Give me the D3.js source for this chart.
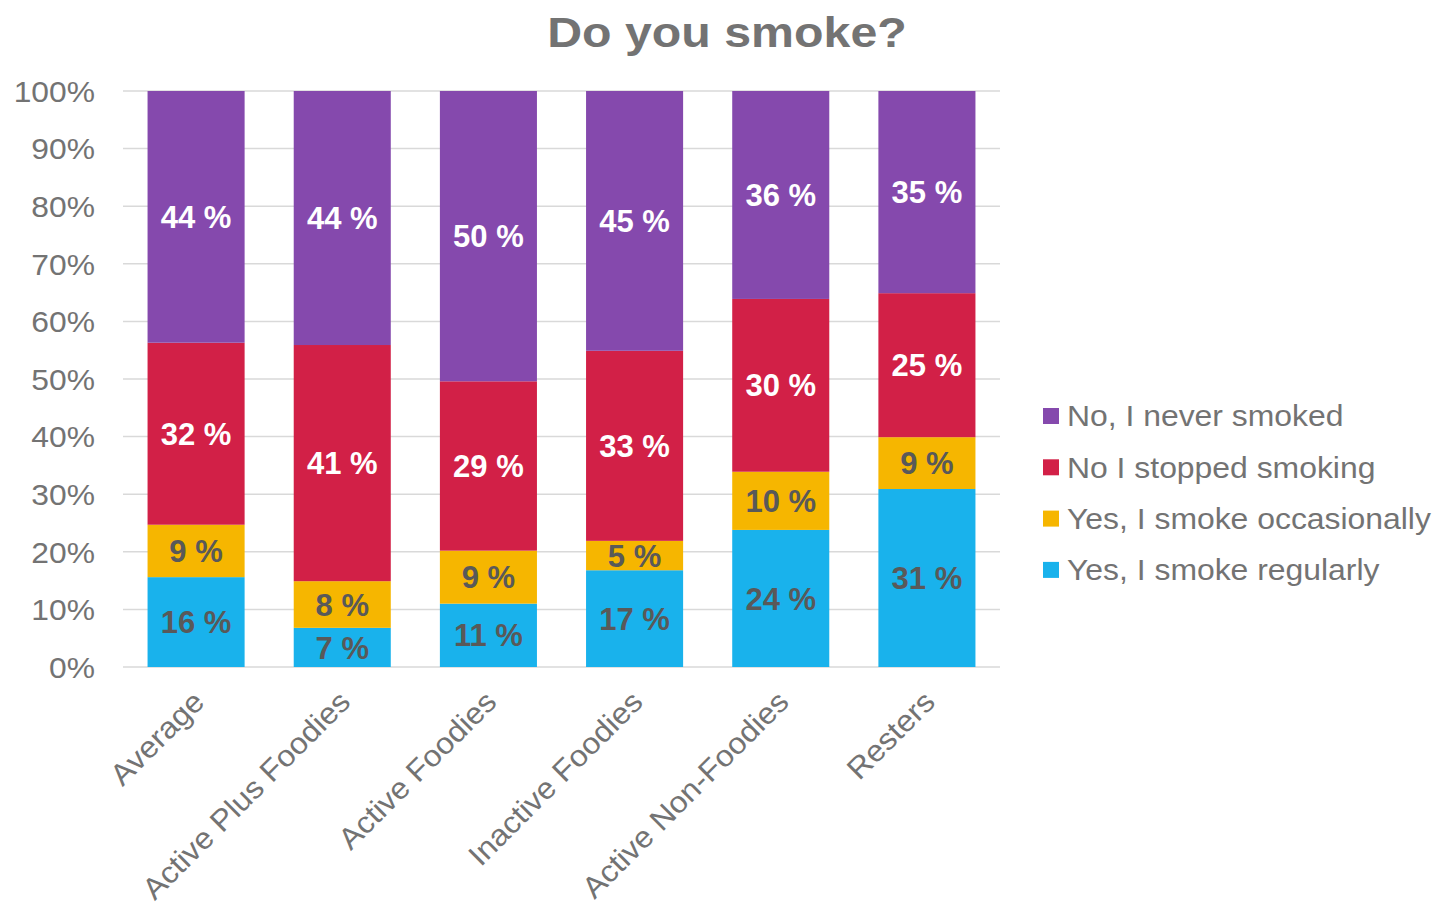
<!DOCTYPE html>
<html>
<head>
<meta charset="utf-8">
<script src="https://cdn.jsdelivr.net/npm/d3@7"></script>
<style>
  body { margin: 0; background: #fff; }
  text { font-family: "Liberation Sans", Arial, sans-serif; }
</style>
</head>
<body>
<div id="container"></div>
<script>
// data (percent of respondents)
var groups = ["Average", "Active Plus Foodies", "Active Foodies", "Inactive Foodies", "Active Non-Foodies", "Resters"];
var seriesNames = ["Yes, I smoke regularly", "Yes, I smoke occasionally", "No I stopped smoking", "No, I never smoked"];
var regularly    = [15.6, 6.8, 11.0, 16.8, 23.8, 30.9];
var occasionally = [9.1, 8.1, 9.2, 5.1, 10.1, 9.0];
var stopped      = [31.6, 41.0, 29.4, 33.0, 30.0, 25.0];
var never        = [43.7, 44.1, 50.4, 45.1, 36.1, 35.1];
var yTicks = [0, 10, 20, 30, 40, 50, 60, 70, 80, 90, 100];

var colors = ["#19b2ec", "#f6b600", "#d22047", "#8549ad"];
var labelColors = ["#595959", "#595959", "#ffffff", "#ffffff"];

var W = 1438, H = 905;
var margin = {top: 91, left: 123, right: 438, bottom: 238};
var width = W - margin.left - margin.right,
    height = H - margin.top - margin.bottom;

var svg = d3.select("#container").append("svg")
    .attr("width", W).attr("height", H);

var g = svg.append("g")
    .attr("transform", "translate(" + margin.left + "," + margin.top + ")");

var x = d3.scaleBand().domain(groups).range([0, width]).paddingInner(0.336).paddingOuter(0.168);
var y = d3.scaleLinear().domain([0, 100]).range([height, 0]);

// gridlines
g.append("g").selectAll("line")
  .data(yTicks)
  .join("line")
    .attr("x1", 0).attr("x2", width)
    .attr("y1", function(d) { return y(d); })
    .attr("y2", function(d) { return y(d); })
    .attr("stroke", "#d9d9d9")
    .attr("stroke-width", 1.5);

// y tick labels
g.append("g").selectAll("text")
  .data(yTicks)
  .join("text")
    .attr("transform", function(d) { return "translate(-28," + y(d) + ") scale(1.06,1)"; })
    .attr("dy", "0.36em")
    .attr("text-anchor", "end")
    .attr("font-size", 30)
    .attr("fill", "#737373")
    .text(function(d) { return d + "%"; });

// stack
var rows = groups.map(function(name, i) {
  return {group: name, s0: regularly[i], s1: occasionally[i], s2: stopped[i], s3: never[i]};
});
var stack = d3.stack().keys(["s0", "s1", "s2", "s3"]);
var layers = stack(rows);

var layer = g.append("g").selectAll("g")
  .data(layers)
  .join("g")
    .attr("fill", function(d, i) { return colors[i]; });

layer.selectAll("rect")
  .data(function(d) { return d; })
  .join("rect")
    .attr("x", function(d) { return x(d.data.group); })
    .attr("width", x.bandwidth())
    .attr("y", function(d) { return y(d[1]); })
    .attr("height", function(d) { return y(d[0]) - y(d[1]); });

// value labels
g.append("g").selectAll("g")
  .data(layers)
  .join("g")
    .attr("fill", function(d, i) { return labelColors[i]; })
  .selectAll("text")
  .data(function(d) { return d; })
  .join("text")
    .attr("x", function(d) { return x(d.data.group) + x.bandwidth() / 2; })
    .attr("y", function(d) { return y((d[0] + d[1]) / 2); })
    .attr("dy", "0.36em")
    .attr("text-anchor", "middle")
    .attr("font-size", 31)
    .attr("font-weight", "bold")
    .text(function(d) { return Math.round(d[1] - d[0]) + " %"; });

// x labels, rotated
g.append("g").selectAll("text")
  .data(groups)
  .join("text")
    .attr("transform", function(d) {
      return "translate(" + (x(d) + x.bandwidth() / 2 - 5) + "," + (height + 22) + ") rotate(-45) scale(1.06,1)";
    })
    .attr("text-anchor", "end")
    .attr("dy", "0.7em")
    .attr("font-size", 30)
    .attr("fill", "#737373")
    .text(function(d) { return d; });

// title
svg.append("text")
    .attr("transform", "translate(727,47) scale(1.15,1)")
    .attr("text-anchor", "middle")
    .attr("font-size", 42)
    .attr("font-weight", "bold")
    .attr("fill", "#737373")
    .text("Do you smoke?");

// legend (top entry is last series)
var legendOrder = [3, 2, 1, 0];
var legend = svg.append("g").selectAll("g")
  .data(legendOrder)
  .join("g")
    .attr("transform", function(d, i) { return "translate(1043," + (416 + i * 51.3) + ")"; });

legend.append("rect")
    .attr("x", 0).attr("y", -8)
    .attr("width", 16).attr("height", 16)
    .attr("fill", function(d) { return colors[d]; });

legend.append("text")
    .attr("transform", "translate(24,0) scale(1.1,1)")
    .attr("dy", "0.36em")
    .attr("font-size", 29)
    .attr("fill", "#737373")
    .text(function(d) { return seriesNames[d]; });
</script>
</body>
</html>
